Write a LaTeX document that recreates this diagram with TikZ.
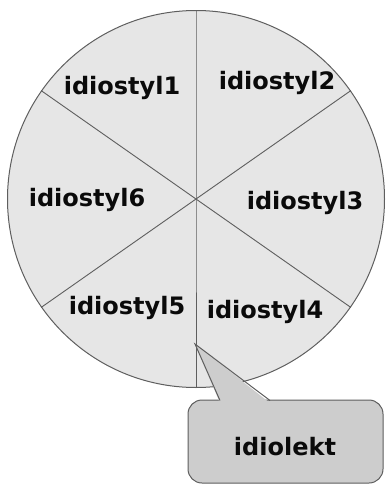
\documentclass[tikz,border=0pt]{standalone}
\usepackage{fontspec}
\setmainfont{DejaVu Sans}
\usepackage{xcolor}
\usepackage{tikz}
\usetikzlibrary{positioning}
\definecolor{FigureInk}{HTML}{0A0A0A}
\definecolor{RuleInk}{HTML}{5E5E5E}
\definecolor{WheelFill}{HTML}{E6E6E6}
\definecolor{BubbleFill}{HTML}{CDCDCD}
\tikzset{
  figure/.style={font=\fontsize{24}{28}\selectfont\bfseries,text=FigureInk},
  wheel/.style={circle,draw=RuleInk,line width=1pt,fill=WheelFill,minimum size=377pt,inner sep=0pt},
  spoke/.style={draw=RuleInk,line width=0.9pt},
  bubble/.style={draw=RuleInk,line width=1pt,fill=BubbleFill,rounded corners=14pt,
    minimum width=195pt,minimum height=83pt},
}
\begin{document}
\begin{tikzpicture}[figure,x=1pt,y=-1pt]
  \useasboundingbox (0,0) rectangle (386,485);

  \node[wheel] (W) at (196,199) {};
  \foreach \a in {90,35,145}
    \draw[spoke] (W.\a) -- (W.center) -- (W.\a+180);

  \node (s1) at (122,88) {idiostyl1};
  \node (s2) at (277,83) {idiostyl2};
  \node (s3) at (305,203) {idiostyl3};
  \node (s4) at (265,312) {idiostyl4};
  \node (s5) at (127,308) {idiostyl5};
  \node (s6) at (87,200) {idiostyl6};

  % speech bubble
  \coordinate (tip) at (195,344);
  \node[bubble] (B) at (285.5,441.5) {};
  \fill[BubbleFill] (tip) -- (220,403) -- (270,403) -- cycle;
  \draw[spoke,line width=1pt] (220,400.5) -- (tip) -- (270,400.5);
  \node (idiolekt) at (285,447) {idiolekt};
\end{tikzpicture}
\end{document}
